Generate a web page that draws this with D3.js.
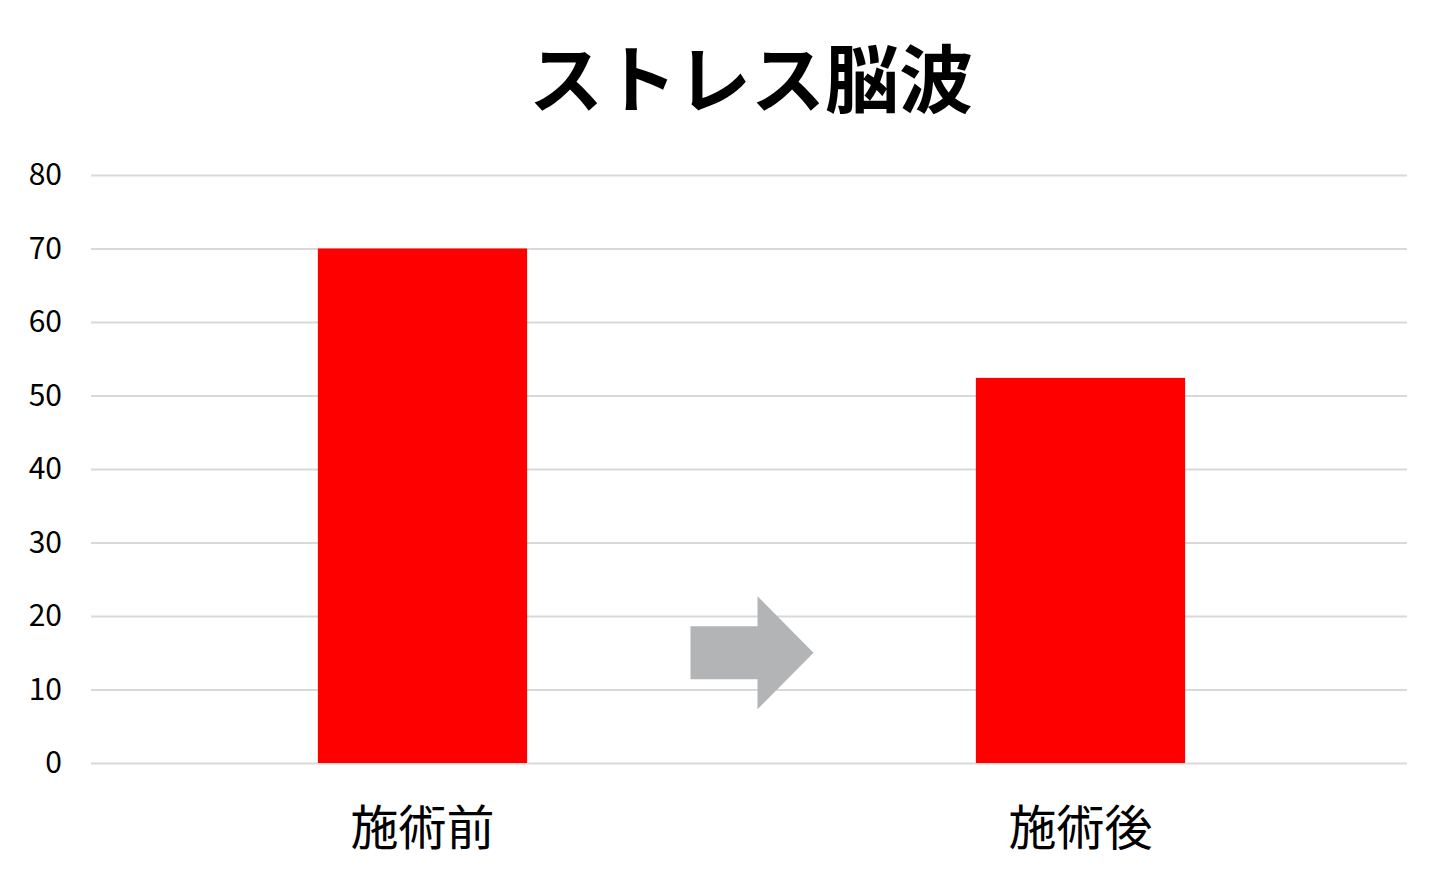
<!DOCTYPE html>
<html><head><meta charset="utf-8">
<script src="https://cdn.jsdelivr.net/npm/d3@7"></script>
<style>body{margin:0;background:#fff}svg{display:block}text{font-family:"Noto Sans CJK JP","Noto Sans",sans-serif}</style>
</head><body>
<svg id="c" width="1443" height="883"></svg>
<script>
const title = "ストレス脳波";
const categories = ["施術前", "施術後"];
const values = [70, 52.4];
const yTicks = [0, 10, 20, 30, 40, 50, 60, 70, 80];

const svg = d3.select("#c");
const mLeft = 91, mRight = 1407, mTop = 175, mBottom = 763;
const x = d3.scaleBand().domain(categories).range([mLeft + 2.5, mRight + 2.5]).paddingInner(0.682).paddingOuter(0.341);
const y = d3.scaleLinear().domain([0, 80]).range([mBottom, mTop]);

svg.append("text").attr("x", 751).attr("y", 107).attr("text-anchor", "middle")
  .attr("font-size", 74).attr("font-weight", "bold").attr("fill", "#000").text(title);

const yAxis = d3.axisLeft(y).tickValues(yTicks).tickSize(-(mRight - mLeft)).tickPadding(29);
const g = svg.append("g").attr("transform", `translate(${mLeft},0)`).call(yAxis);
g.select(".domain").remove();
g.selectAll(".tick line").attr("stroke", "#d9d9d9").attr("stroke-width", 2.2);
g.selectAll(".tick text").attr("font-size", 30).attr("fill", "#000").attr("font-family", "Roboto, 'Noto Sans', sans-serif");

svg.selectAll("rect.bar").data(values).join("rect").attr("class", "bar")
  .attr("x", (d, i) => x(categories[i])).attr("width", x.bandwidth())
  .attr("y", d => y(d)).attr("height", d => y(0) - y(d)).attr("fill", "#ff0000");

svg.selectAll("text.cat").data(categories).join("text").attr("class", "cat")
  .attr("x", d => x(d) + x.bandwidth() / 2).attr("y", 845).attr("text-anchor", "middle")
  .attr("font-size", 48).attr("fill", "#000").text(d => d);

// arrow between bars
const mid = (x(categories[0]) + x.bandwidth() + x(categories[1])) / 2;
const cy = y(15), hh = y(0) - y(7.7), sh = y(0) - y(3.6);
const pts = [[mid - 61, cy - sh], [mid + 6, cy - sh], [mid + 6, cy - hh], [mid + 62, cy],
  [mid + 6, cy + hh], [mid + 6, cy + sh], [mid - 61, cy + sh]];
svg.append("polygon").attr("points", pts.map(p => p.join(",")).join(" ")).attr("fill", "#b3b4b6");
</script>
</body></html>
